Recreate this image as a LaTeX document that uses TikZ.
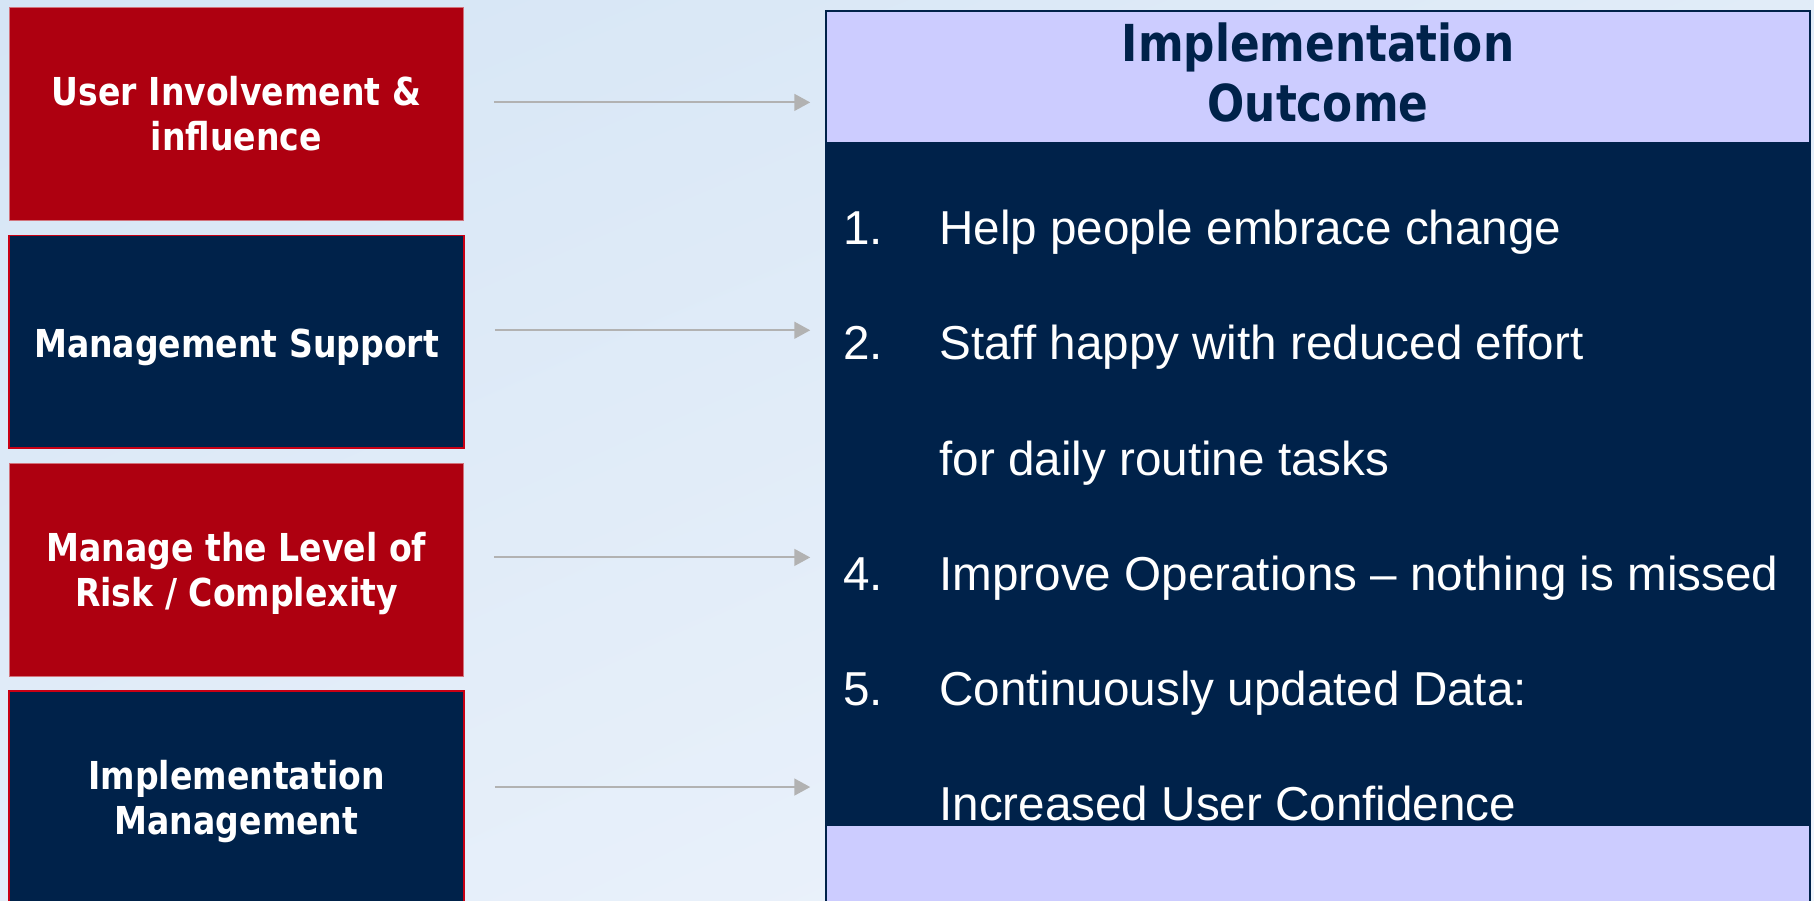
\documentclass[tikz,border=0pt]{standalone}
\usepackage{fontspec}
\setmainfont{Liberation Sans}
\newfontfamily\boxfont[FakeStretch=0.86]{DejaVu Sans}
\usepackage{xcolor}
\usepackage{tikz}
\usetikzlibrary{positioning,arrows.meta,shadings}

\definecolor{boxred}{RGB}{174,0,16}
\definecolor{boxnavy}{RGB}{0,34,74}
\definecolor{edgered}{RGB}{200,0,20}
\definecolor{lavender}{RGB}{204,204,255}
\definecolor{arrowgray}{RGB}{178,178,178}
\definecolor{bgtl}{RGB}{213,229,245}
\definecolor{bgtr}{RGB}{225,236,248}
\definecolor{bgbl}{RGB}{227,237,249}
\definecolor{bgbr}{RGB}{240,245,252}

\begin{document}
\begin{tikzpicture}[x=0.02cm, y=-0.02cm,
    factor/.style={rectangle, minimum width=9.1cm, minimum height=4.26cm, inner sep=0pt, align=center, text=white, font=\boxfont\bfseries\fontsize{21.9}{25.6}\selectfont, text height=20pt, text depth=2.5pt},
    twolines/.style={text height=45pt, text depth=3pt},
    redfactor/.style={factor, fill=boxred, draw=boxred!55!white, line width=0.6pt},
    navyfactor/.style={factor, fill=boxnavy, draw=edgered, line width=1pt},
    panel/.style={rectangle, minimum width=19.68cm, inner sep=0pt, draw=boxnavy, line width=1pt},
    head/.style={panel, fill=lavender, minimum height=2.64cm, align=center, text=boxnavy, font=\boxfont\bfseries\fontsize{29}{33.6}\selectfont, text height=53pt, text depth=3pt},
    item/.style={anchor=base west, inner sep=0pt, text=white, font=\fontsize{27.1}{32}\selectfont},
    line/.style={draw, arrowgray, line width=1.2pt, -{Triangle[length=9pt,width=9.5pt]}, shorten <=0.6cm, shorten >=0.3cm}]

    \useasboundingbox (0,0) rectangle (1814,900);
    \shade[upper left=bgtl, upper right=bgtr, lower left=bgbl, lower right=bgbr] (0,0) rectangle (1814,900);

    % Factors
    \node [redfactor, twolines] (ui) at (236.5,114) {User Involvement \&\\influence};
    \node [navyfactor, below=0.27cm of ui] (ms) {Management Support};
    \node [redfactor, twolines, below=0.27cm of ms] (risk) {Manage the Level of\\Risk / Complexity};
    \node [navyfactor, twolines, below=0.27cm of risk] (impl) {Implementation\\Management};

    % Outcome panel
    \node [panel, fill=boxnavy, minimum height=17.98cm] (outcome) at (1318,460.5) {};
    \node [head, below=0pt of outcome.north] (title) {Implementation\\Outcome};
    \node [panel, fill=lavender, minimum height=1.7cm, above=0pt of outcome.south] (foot) {};

    % Outcome list
    \node [item] (n1) at (843,244) {1.};
    \node [item] (t1) at (939,244) {Help people embrace change};
    \node [item] (n2) at (843,359) {2.};
    \node [item] (t2) at (939,359) {Staff happy with reduced effort};
    \node [item] (t2b) at (939,475) {for daily routine tasks};
    \node [item] (n4) at (843,590) {4.};
    \node [item] (t4) at (939,590) {Improve Operations – nothing is missed};
    \node [item] (n5) at (843,705) {5.};
    \node [item] (t5) at (939,705) {Continuously updated Data:};
    \node [item] (t5b) at (939,820) {Increased User Confidence};

    % Paths
    \path [line] ([yshift=6.6pt]ui.east) -- ([yshift=6.6pt]ui.east -| outcome.west);
    \path [line] ([yshift=6.6pt]ms.east) -- ([yshift=6.6pt]ms.east -| outcome.west);
    \path [line] ([yshift=7pt]risk.east) -- ([yshift=7pt]risk.east -| outcome.west);
    \path [line] ([yshift=6pt]impl.east) -- ([yshift=6pt]impl.east -| outcome.west);

\end{tikzpicture}
\end{document}
